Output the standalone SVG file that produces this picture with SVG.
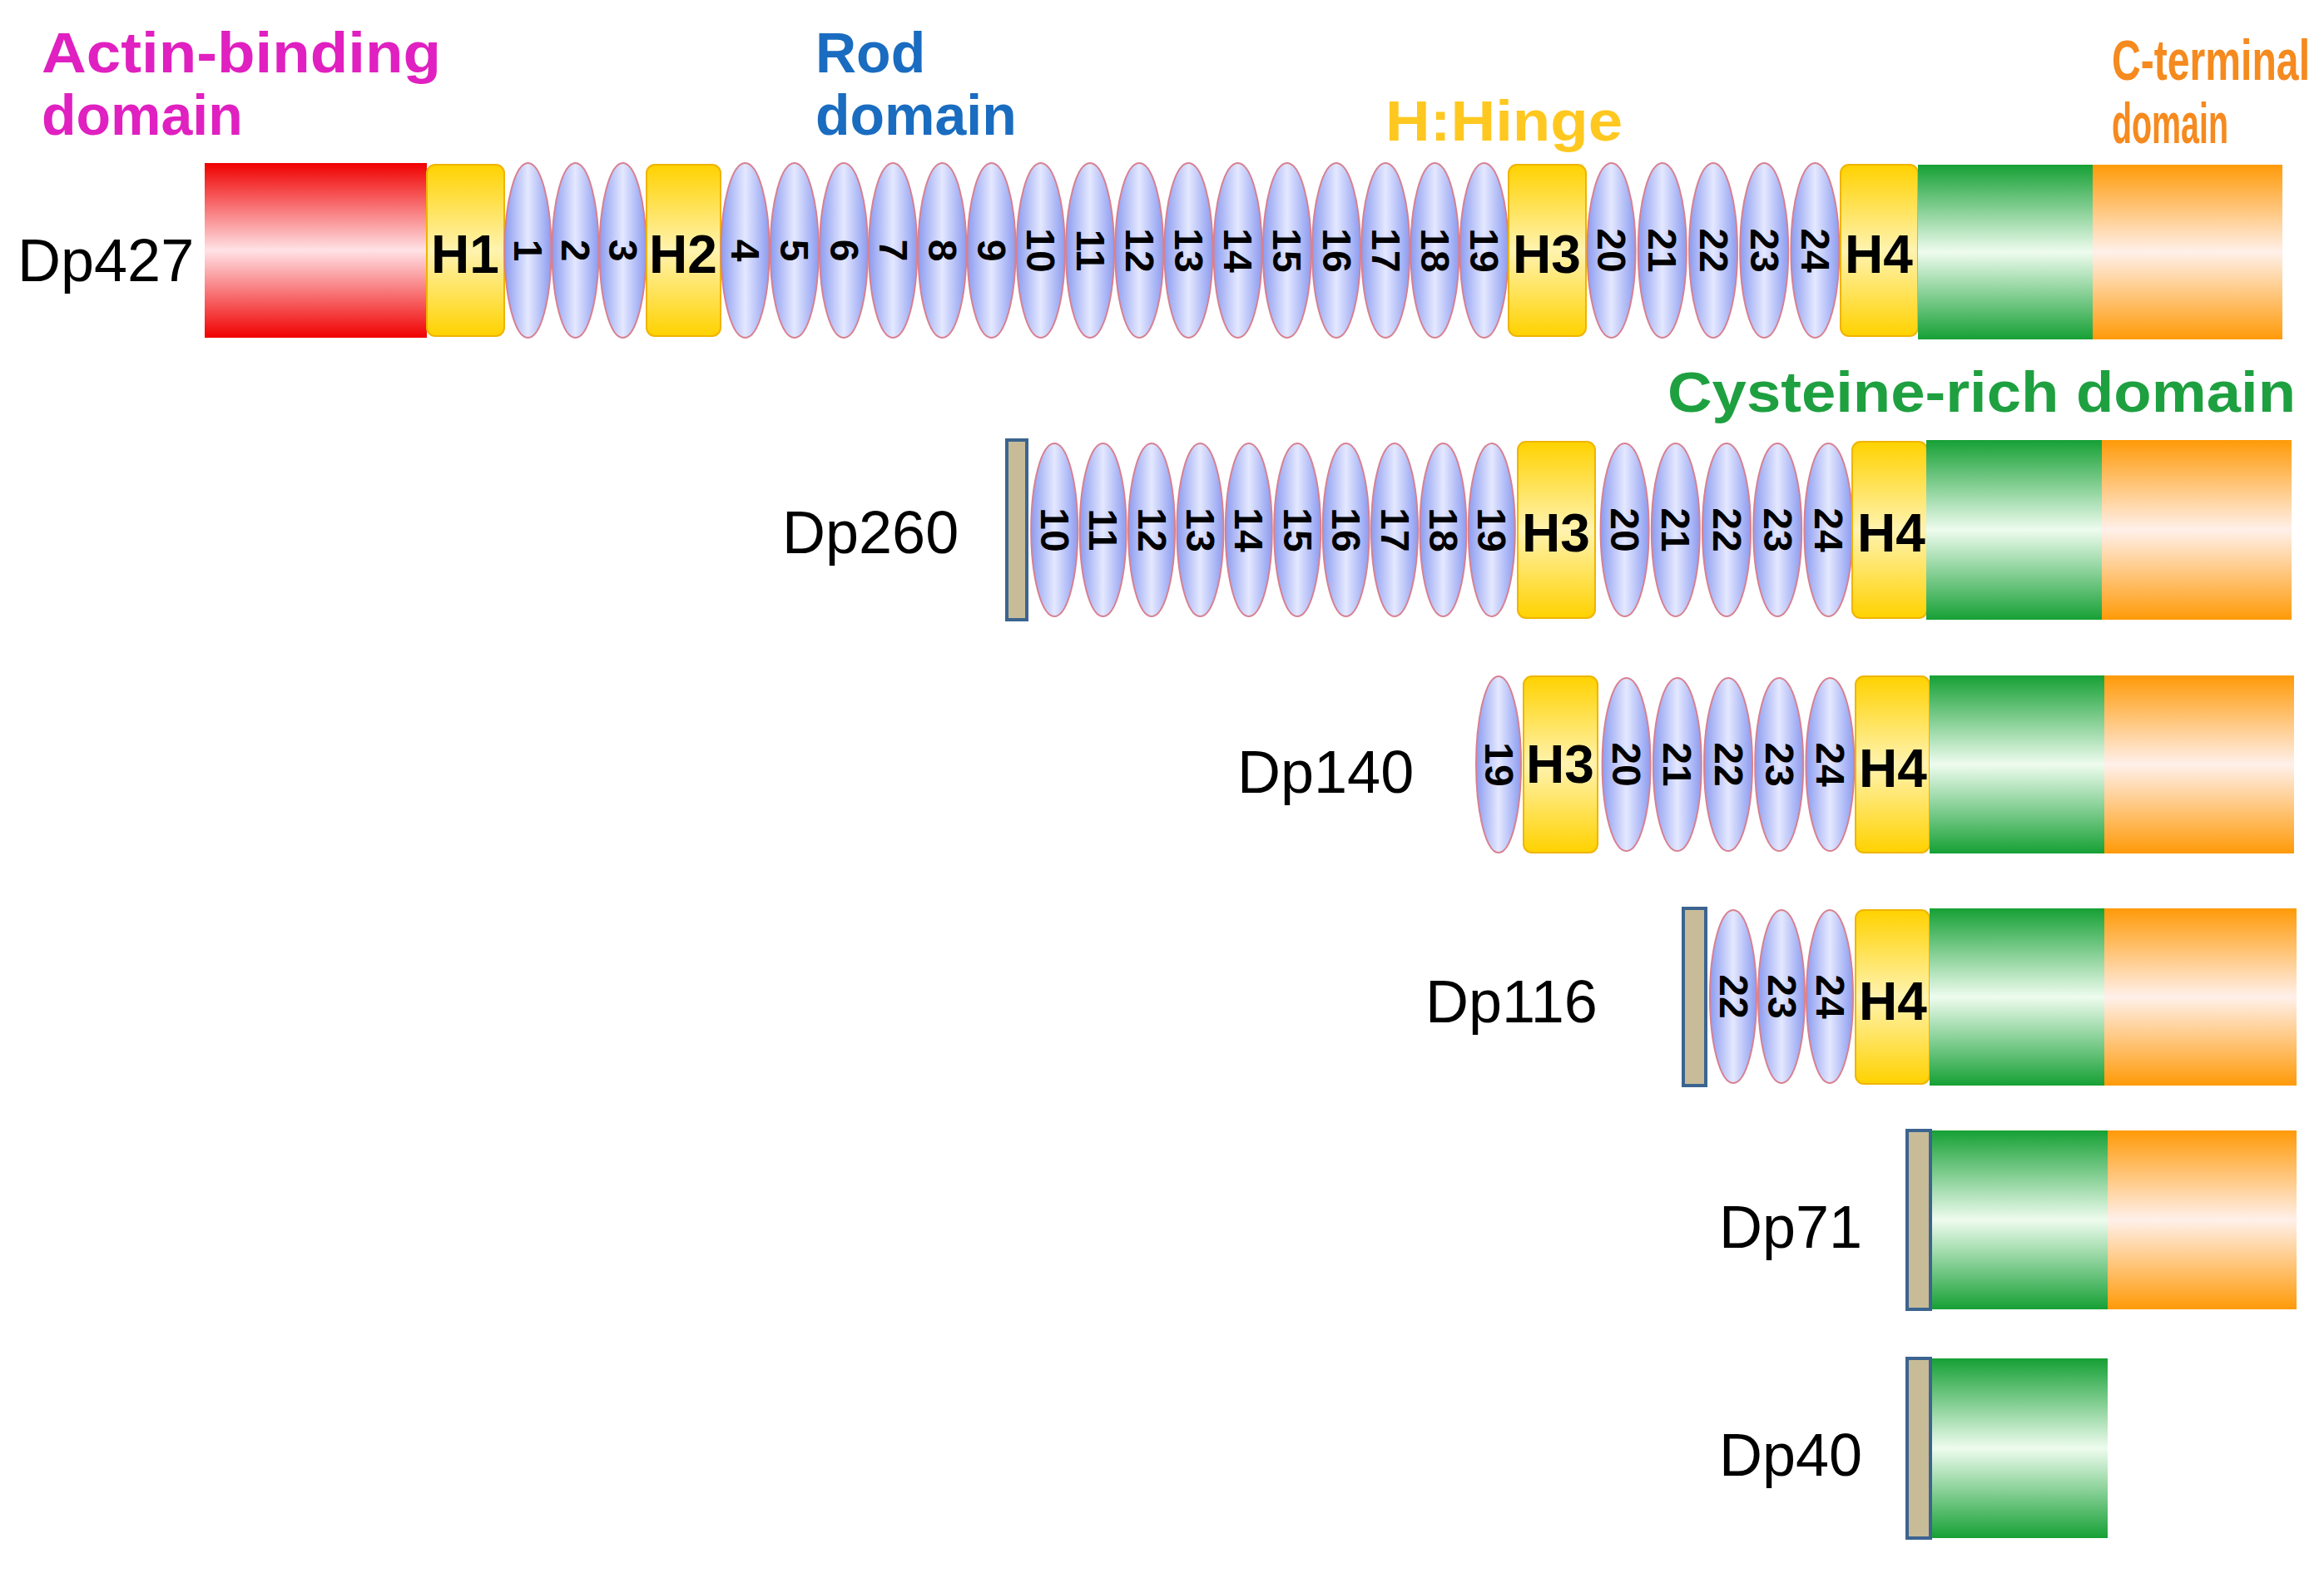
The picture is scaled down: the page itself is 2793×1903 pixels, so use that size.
<svg xmlns="http://www.w3.org/2000/svg" width="2793" height="1903" viewBox="0 0 2793 1903">
<defs>
<linearGradient id="gE" x1="0" y1="0" x2="1" y2="0"><stop offset="0" stop-color="#8c9cf0"/><stop offset="0.5" stop-color="#e4e8ff"/><stop offset="1" stop-color="#8c9cf0"/></linearGradient>
<linearGradient id="gH" x1="0" y1="0" x2="0" y2="1"><stop offset="0" stop-color="#ffd200"/><stop offset="0.5" stop-color="#fff3b0"/><stop offset="1" stop-color="#ffd200"/></linearGradient>
<linearGradient id="gR" x1="0" y1="0" x2="0" y2="1"><stop offset="0" stop-color="#f00000"/><stop offset="0.5" stop-color="#ffe2e6"/><stop offset="1" stop-color="#f00000"/></linearGradient>
<linearGradient id="gG" x1="0" y1="0" x2="0" y2="1"><stop offset="0" stop-color="#16a035"/><stop offset="0.5" stop-color="#eefcee"/><stop offset="1" stop-color="#16a035"/></linearGradient>
<linearGradient id="gO" x1="0" y1="0" x2="0" y2="1"><stop offset="0" stop-color="#ff9a08"/><stop offset="0.5" stop-color="#fff0ea"/><stop offset="1" stop-color="#ff9a08"/></linearGradient>
</defs>
<style>
.el{fill:url(#gE);stroke:#d88090;stroke-width:2}
.h{fill:url(#gH);stroke:#f0b400;stroke-width:2}
.r{fill:url(#gR)}
.g{fill:url(#gG)}
.o{fill:url(#gO)}
.bar{fill:#c8bc98;stroke:#3c6490;stroke-width:4}
.n{font-family:"Liberation Sans",Arial,sans-serif;font-weight:bold;font-size:48px;fill:#000;text-anchor:middle;dominant-baseline:central}
.hl{font-family:"Liberation Sans",Arial,sans-serif;font-weight:bold;font-size:64px;fill:#000;text-anchor:middle;dominant-baseline:central}
.lab{font-family:"Liberation Sans",Arial,sans-serif;font-size:72px;fill:#000}
.t{font-family:"Liberation Sans",Arial,sans-serif;font-weight:bold;font-size:68px}
</style>
<g id="titles">
<text class="t" fill="#e020c0" x="50" y="87" textLength="480" lengthAdjust="spacingAndGlyphs">Actin-binding</text>
<text class="t" fill="#e020c0" x="50" y="162">domain</text>
<text class="t" fill="#1a6cc0" x="980" y="87">Rod</text>
<text class="t" fill="#1a6cc0" x="980" y="162">domain</text>
<text class="t" fill="#ffc820" x="1665" y="169" textLength="285" lengthAdjust="spacingAndGlyphs">H:Hinge</text>
<text class="t" fill="#f58a1f" x="2538" y="96" font-size="64" textLength="238" lengthAdjust="spacingAndGlyphs">C-terminal</text>
<text class="t" fill="#f58a1f" x="2538" y="172" font-size="64" textLength="140" lengthAdjust="spacingAndGlyphs">domain</text>
<text class="t" fill="#1ea040" x="2004" y="495" textLength="755" lengthAdjust="spacingAndGlyphs">Cysteine-rich domain</text>
</g>
<g id="dp427">
<text class="lab" x="21" y="338">Dp427</text>
<rect class="r" x="246" y="196" width="267" height="210"/>
<rect class="h" x="513" y="198" width="93" height="206" rx="10"/><text class="hl" x="559" y="306">H1</text>
<g class="el"><ellipse cx="634.5" cy="301" rx="28" ry="105"/><ellipse cx="691.5" cy="301" rx="28" ry="105"/><ellipse cx="748.5" cy="301" rx="28" ry="105"/></g>
<text class="n" transform="rotate(90 634.5 301)" x="634.5" y="301">1</text>
<text class="n" transform="rotate(90 691.5 301)" x="691.5" y="301">2</text>
<text class="n" transform="rotate(90 748.5 301)" x="748.5" y="301">3</text>
<rect class="h" x="777" y="198" width="89" height="206" rx="10"/><text class="hl" x="821" y="306">H2</text>
<g class="el"><ellipse cx="895.6" cy="301" rx="29" ry="105"/><ellipse cx="954.8" cy="301" rx="29" ry="105"/><ellipse cx="1014" cy="301" rx="29" ry="105"/><ellipse cx="1073.2" cy="301" rx="29" ry="105"/><ellipse cx="1132.4" cy="301" rx="29" ry="105"/><ellipse cx="1191.6" cy="301" rx="29" ry="105"/><ellipse cx="1250.8" cy="301" rx="29" ry="105"/><ellipse cx="1310" cy="301" rx="29" ry="105"/><ellipse cx="1369.2" cy="301" rx="29" ry="105"/><ellipse cx="1428.4" cy="301" rx="29" ry="105"/><ellipse cx="1487.6" cy="301" rx="29" ry="105"/><ellipse cx="1546.8" cy="301" rx="29" ry="105"/><ellipse cx="1606" cy="301" rx="29" ry="105"/><ellipse cx="1665.2" cy="301" rx="29" ry="105"/><ellipse cx="1724.4" cy="301" rx="29" ry="105"/><ellipse cx="1783.6" cy="301" rx="29" ry="105"/></g>
<text class="n" transform="rotate(90 895.6 301)" x="895.6" y="301">4</text>
<text class="n" transform="rotate(90 954.8 301)" x="954.8" y="301">5</text>
<text class="n" transform="rotate(90 1014 301)" x="1014" y="301">6</text>
<text class="n" transform="rotate(90 1073.2 301)" x="1073.2" y="301">7</text>
<text class="n" transform="rotate(90 1132.4 301)" x="1132.4" y="301">8</text>
<text class="n" transform="rotate(90 1191.6 301)" x="1191.6" y="301">9</text>
<text class="n" transform="rotate(90 1250.8 301)" x="1250.8" y="301">10</text>
<text class="n" transform="rotate(90 1310 301)" x="1310" y="301">11</text>
<text class="n" transform="rotate(90 1369.2 301)" x="1369.2" y="301">12</text>
<text class="n" transform="rotate(90 1428.4 301)" x="1428.4" y="301">13</text>
<text class="n" transform="rotate(90 1487.6 301)" x="1487.6" y="301">14</text>
<text class="n" transform="rotate(90 1546.8 301)" x="1546.8" y="301">15</text>
<text class="n" transform="rotate(90 1606 301)" x="1606" y="301">16</text>
<text class="n" transform="rotate(90 1665.2 301)" x="1665.2" y="301">17</text>
<text class="n" transform="rotate(90 1724.4 301)" x="1724.4" y="301">18</text>
<text class="n" transform="rotate(90 1783.6 301)" x="1783.6" y="301">19</text>
<rect class="h" x="1813" y="198" width="93" height="206" rx="10"/><text class="hl" x="1859" y="306">H3</text>
<g class="el"><ellipse cx="1936.6" cy="301" rx="29" ry="105"/><ellipse cx="1997.8" cy="301" rx="29" ry="105"/><ellipse cx="2059" cy="301" rx="29" ry="105"/><ellipse cx="2120.2" cy="301" rx="29" ry="105"/><ellipse cx="2181.4" cy="301" rx="29" ry="105"/></g>
<text class="n" transform="rotate(90 1936.6 301)" x="1936.6" y="301">20</text>
<text class="n" transform="rotate(90 1997.8 301)" x="1997.8" y="301">21</text>
<text class="n" transform="rotate(90 2059 301)" x="2059" y="301">22</text>
<text class="n" transform="rotate(90 2120.2 301)" x="2120.2" y="301">23</text>
<text class="n" transform="rotate(90 2181.4 301)" x="2181.4" y="301">24</text>
<rect class="h" x="2212" y="198" width="93" height="206" rx="10"/><text class="hl" x="2258" y="306">H4</text>
<rect class="g" x="2305" y="198" width="210" height="210"/>
<rect class="o" x="2515" y="198" width="228" height="210"/>
</g>
<g id="dp260">
<text class="lab" x="940" y="665">Dp260</text>
<rect class="bar" x="1210" y="529" width="24" height="216"/>
<g class="el"><ellipse cx="1267.2" cy="637" rx="28" ry="104"/><ellipse cx="1325.6" cy="637" rx="28" ry="104"/><ellipse cx="1384" cy="637" rx="28" ry="104"/><ellipse cx="1442.4" cy="637" rx="28" ry="104"/><ellipse cx="1500.8" cy="637" rx="28" ry="104"/><ellipse cx="1559.2" cy="637" rx="28" ry="104"/><ellipse cx="1617.6" cy="637" rx="28" ry="104"/><ellipse cx="1676" cy="637" rx="28" ry="104"/><ellipse cx="1734.4" cy="637" rx="28" ry="104"/><ellipse cx="1792.8" cy="637" rx="28" ry="104"/></g>
<text class="n" transform="rotate(90 1267.2 637)" x="1267.2" y="637">10</text>
<text class="n" transform="rotate(90 1325.6 637)" x="1325.6" y="637">11</text>
<text class="n" transform="rotate(90 1384 637)" x="1384" y="637">12</text>
<text class="n" transform="rotate(90 1442.4 637)" x="1442.4" y="637">13</text>
<text class="n" transform="rotate(90 1500.8 637)" x="1500.8" y="637">14</text>
<text class="n" transform="rotate(90 1559.2 637)" x="1559.2" y="637">15</text>
<text class="n" transform="rotate(90 1617.6 637)" x="1617.6" y="637">16</text>
<text class="n" transform="rotate(90 1676 637)" x="1676" y="637">17</text>
<text class="n" transform="rotate(90 1734.4 637)" x="1734.4" y="637">18</text>
<text class="n" transform="rotate(90 1792.8 637)" x="1792.8" y="637">19</text>
<rect class="h" x="1824" y="531" width="93" height="212" rx="10"/><text class="hl" x="1870" y="641">H3</text>
<g class="el"><ellipse cx="1952.6" cy="637" rx="29" ry="104"/><ellipse cx="2013.8" cy="637" rx="29" ry="104"/><ellipse cx="2075" cy="637" rx="29" ry="104"/><ellipse cx="2136.2" cy="637" rx="29" ry="104"/><ellipse cx="2197.4" cy="637" rx="29" ry="104"/></g>
<text class="n" transform="rotate(90 1952.6 637)" x="1952.6" y="637">20</text>
<text class="n" transform="rotate(90 2013.8 637)" x="2013.8" y="637">21</text>
<text class="n" transform="rotate(90 2075 637)" x="2075" y="637">22</text>
<text class="n" transform="rotate(90 2136.2 637)" x="2136.2" y="637">23</text>
<text class="n" transform="rotate(90 2197.4 637)" x="2197.4" y="637">24</text>
<rect class="h" x="2226" y="531" width="90" height="212" rx="10"/><text class="hl" x="2273" y="641">H4</text>
<rect class="g" x="2315" y="529" width="211" height="216"/>
<rect class="o" x="2526" y="529" width="228" height="216"/>
</g>
<g id="dp140">
<text class="lab" x="1487" y="953">Dp140</text>
<g class="el"><ellipse cx="1801" cy="919" rx="27" ry="106"/></g>
<text class="n" transform="rotate(90 1801 919)" x="1801" y="919">19</text>
<rect class="h" x="1831" y="813" width="89" height="212" rx="10"/><text class="hl" x="1875" y="919">H3</text>
<g class="el"><ellipse cx="1954.6" cy="919" rx="29" ry="104"/><ellipse cx="2015.8" cy="919" rx="29" ry="104"/><ellipse cx="2077" cy="919" rx="29" ry="104"/><ellipse cx="2138.2" cy="919" rx="29" ry="104"/><ellipse cx="2199.4" cy="919" rx="29" ry="104"/></g>
<text class="n" transform="rotate(90 1954.6 919)" x="1954.6" y="919">20</text>
<text class="n" transform="rotate(90 2015.8 919)" x="2015.8" y="919">21</text>
<text class="n" transform="rotate(90 2077 919)" x="2077" y="919">22</text>
<text class="n" transform="rotate(90 2138.2 919)" x="2138.2" y="919">23</text>
<text class="n" transform="rotate(90 2199.4 919)" x="2199.4" y="919">24</text>
<rect class="h" x="2230" y="813" width="89" height="212" rx="10"/><text class="hl" x="2275" y="924">H4</text>
<rect class="g" x="2319" y="812" width="210" height="214"/>
<rect class="o" x="2529" y="812" width="228" height="214"/>
</g>
<g id="dp116">
<text class="lab" x="1713" y="1229">Dp116</text>
<rect class="bar" x="2023" y="1092" width="27" height="213"/>
<g class="el"><ellipse cx="2083" cy="1198" rx="28" ry="104"/><ellipse cx="2141" cy="1198" rx="28" ry="104"/><ellipse cx="2199" cy="1198" rx="28" ry="104"/></g>
<text class="n" transform="rotate(90 2083 1198)" x="2083" y="1198">22</text>
<text class="n" transform="rotate(90 2141 1198)" x="2141" y="1198">23</text>
<text class="n" transform="rotate(90 2199 1198)" x="2199" y="1198">24</text>
<rect class="h" x="2230" y="1094" width="89" height="209" rx="10"/><text class="hl" x="2275" y="1204">H4</text>
<rect class="g" x="2319" y="1092" width="210" height="213"/>
<rect class="o" x="2529" y="1092" width="231" height="213"/>
</g>
<g id="dp71">
<text class="lab" x="2066" y="1500">Dp71</text>
<rect class="bar" x="2292" y="1359" width="28" height="215"/>
<rect class="g" x="2322" y="1359" width="211" height="215"/>
<rect class="o" x="2533" y="1359" width="227" height="215"/>
</g>
<g id="dp40">
<text class="lab" x="2066" y="1774">Dp40</text>
<rect class="bar" x="2292" y="1633" width="28" height="216"/>
<rect class="g" x="2322" y="1633" width="211" height="216"/>
</g>
<g id="connectors"/>
</svg>
